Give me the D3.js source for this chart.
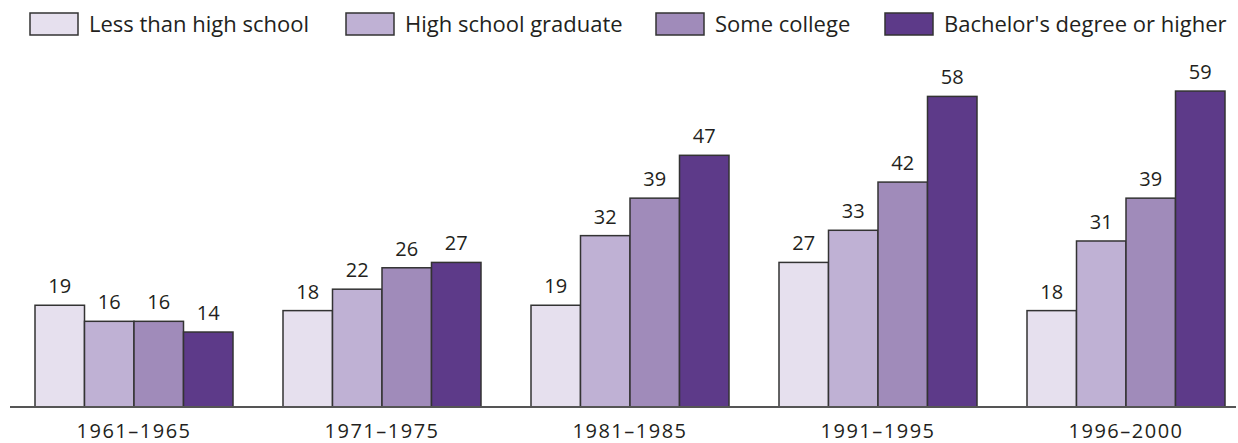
<!DOCTYPE html>
<html>
<head>
<meta charset="utf-8">
<script src="https://cdn.jsdelivr.net/npm/d3@7"></script>
<style>
  body { margin: 0; background: #fff; }
  svg { display: block; font-family: "Open Sans", sans-serif; }
</style>
</head>
<body>
<div class="container"></div>
<script>
const WIDTH = 1238;
const HEIGHT = 443;

// data
const periods = ['1961\u20131965', '1971\u20131975', '1981\u20131985', '1991\u20131995', '1996\u20132000'];
const series = ['Less than high school', 'High school graduate', 'Some college', "Bachelor's degree or higher"];
const lessThanHS = [19, 18, 19, 27, 18];
const hsGraduate = [16, 22, 32, 33, 31];
const someCollege = [16, 26, 39, 42, 39];
const bachelors = [14, 27, 47, 58, 59];

const colors = ['#e6e0ee', '#bfb1d4', '#a08bba', '#5d3a89'];
const legendX = [30, 346, 656, 885];

var translate = function(x, y) {
    return `translate(${x},${y})`;
};

var draw = function() {
    var values = [lessThanHS, hsGraduate, someCollege, bachelors];
    var rows = periods.map((p, i) => ({
        period: p,
        vals: series.map((s, j) => ({ key: s, idx: j, v: values[j][i] }))
    }));

    var svg = d3.select('.container').append('svg')
        .attr('width', WIDTH)
        .attr('height', HEIGHT);

    let x0 = d3.scaleBand()
        .domain(periods)
        .range([35, 1225])
        .paddingInner(50 / 248)
        .paddingOuter(0);

    let x1 = d3.scaleBand()
        .domain(series)
        .range([0, x0.bandwidth()])
        .padding(0);

    let y = d3.scaleLinear()
        .domain([0, 60])
        .range([407, 85.7]);

    // bars
    var groups = svg.selectAll('g.group').data(rows).enter()
        .append('g')
        .classed('group', true)
        .attr('transform', (d) => translate(x0(d.period), 0));

    groups.selectAll('rect').data((d) => d.vals).enter()
        .append('rect')
        .attr('x', (d) => x1(d.key))
        .attr('y', (d) => y(d.v))
        .attr('width', x1.bandwidth())
        .attr('height', (d) => y(0) - y(d.v))
        .attr('fill', (d) => colors[d.idx])
        .attr('stroke', '#333')
        .attr('stroke-width', 1.5);

    groups.selectAll('text.val').data((d) => d.vals).enter()
        .append('text')
        .classed('val', true)
        .attr('x', (d) => x1(d.key) + x1.bandwidth() / 2)
        .attr('y', (d) => y(d.v) - 12)
        .attr('text-anchor', 'middle')
        .attr('font-size', 20)
        .attr('fill', '#231f20')
        .text((d) => d.v);

    // x axis
    let xAxis = d3.axisBottom(x0).tickSize(0).tickPadding(0);
    var ax = svg.append('g')
        .attr('transform', translate(0, y(0)))
        .call(xAxis);
    ax.select('.domain')
        .attr('d', 'M10,0H1236')
        .attr('stroke', '#555')
        .attr('stroke-width', 2);
    ax.selectAll('text')
        .attr('y', 31)
        .attr('dy', null)
        .attr('font-family', '"Open Sans", sans-serif')
        .attr('font-size', 20)
        .attr('letter-spacing', 1.5)
        .attr('fill', '#231f20');

    // legend
    var legend = svg.selectAll('g.legend').data(series).enter()
        .append('g')
        .classed('legend', true)
        .attr('transform', (d, i) => translate(legendX[i], 13));

    legend.append('rect')
        .attr('width', 48)
        .attr('height', 22)
        .attr('fill', (d, i) => colors[i])
        .attr('stroke', '#333')
        .attr('stroke-width', 1.5);

    legend.append('text')
        .attr('x', 59)
        .attr('y', 19)
        .attr('font-size', 22)
        .attr('fill', '#231f20')
        .text((d) => d);
};
window.onload = draw;
</script>
</body>
</html>
